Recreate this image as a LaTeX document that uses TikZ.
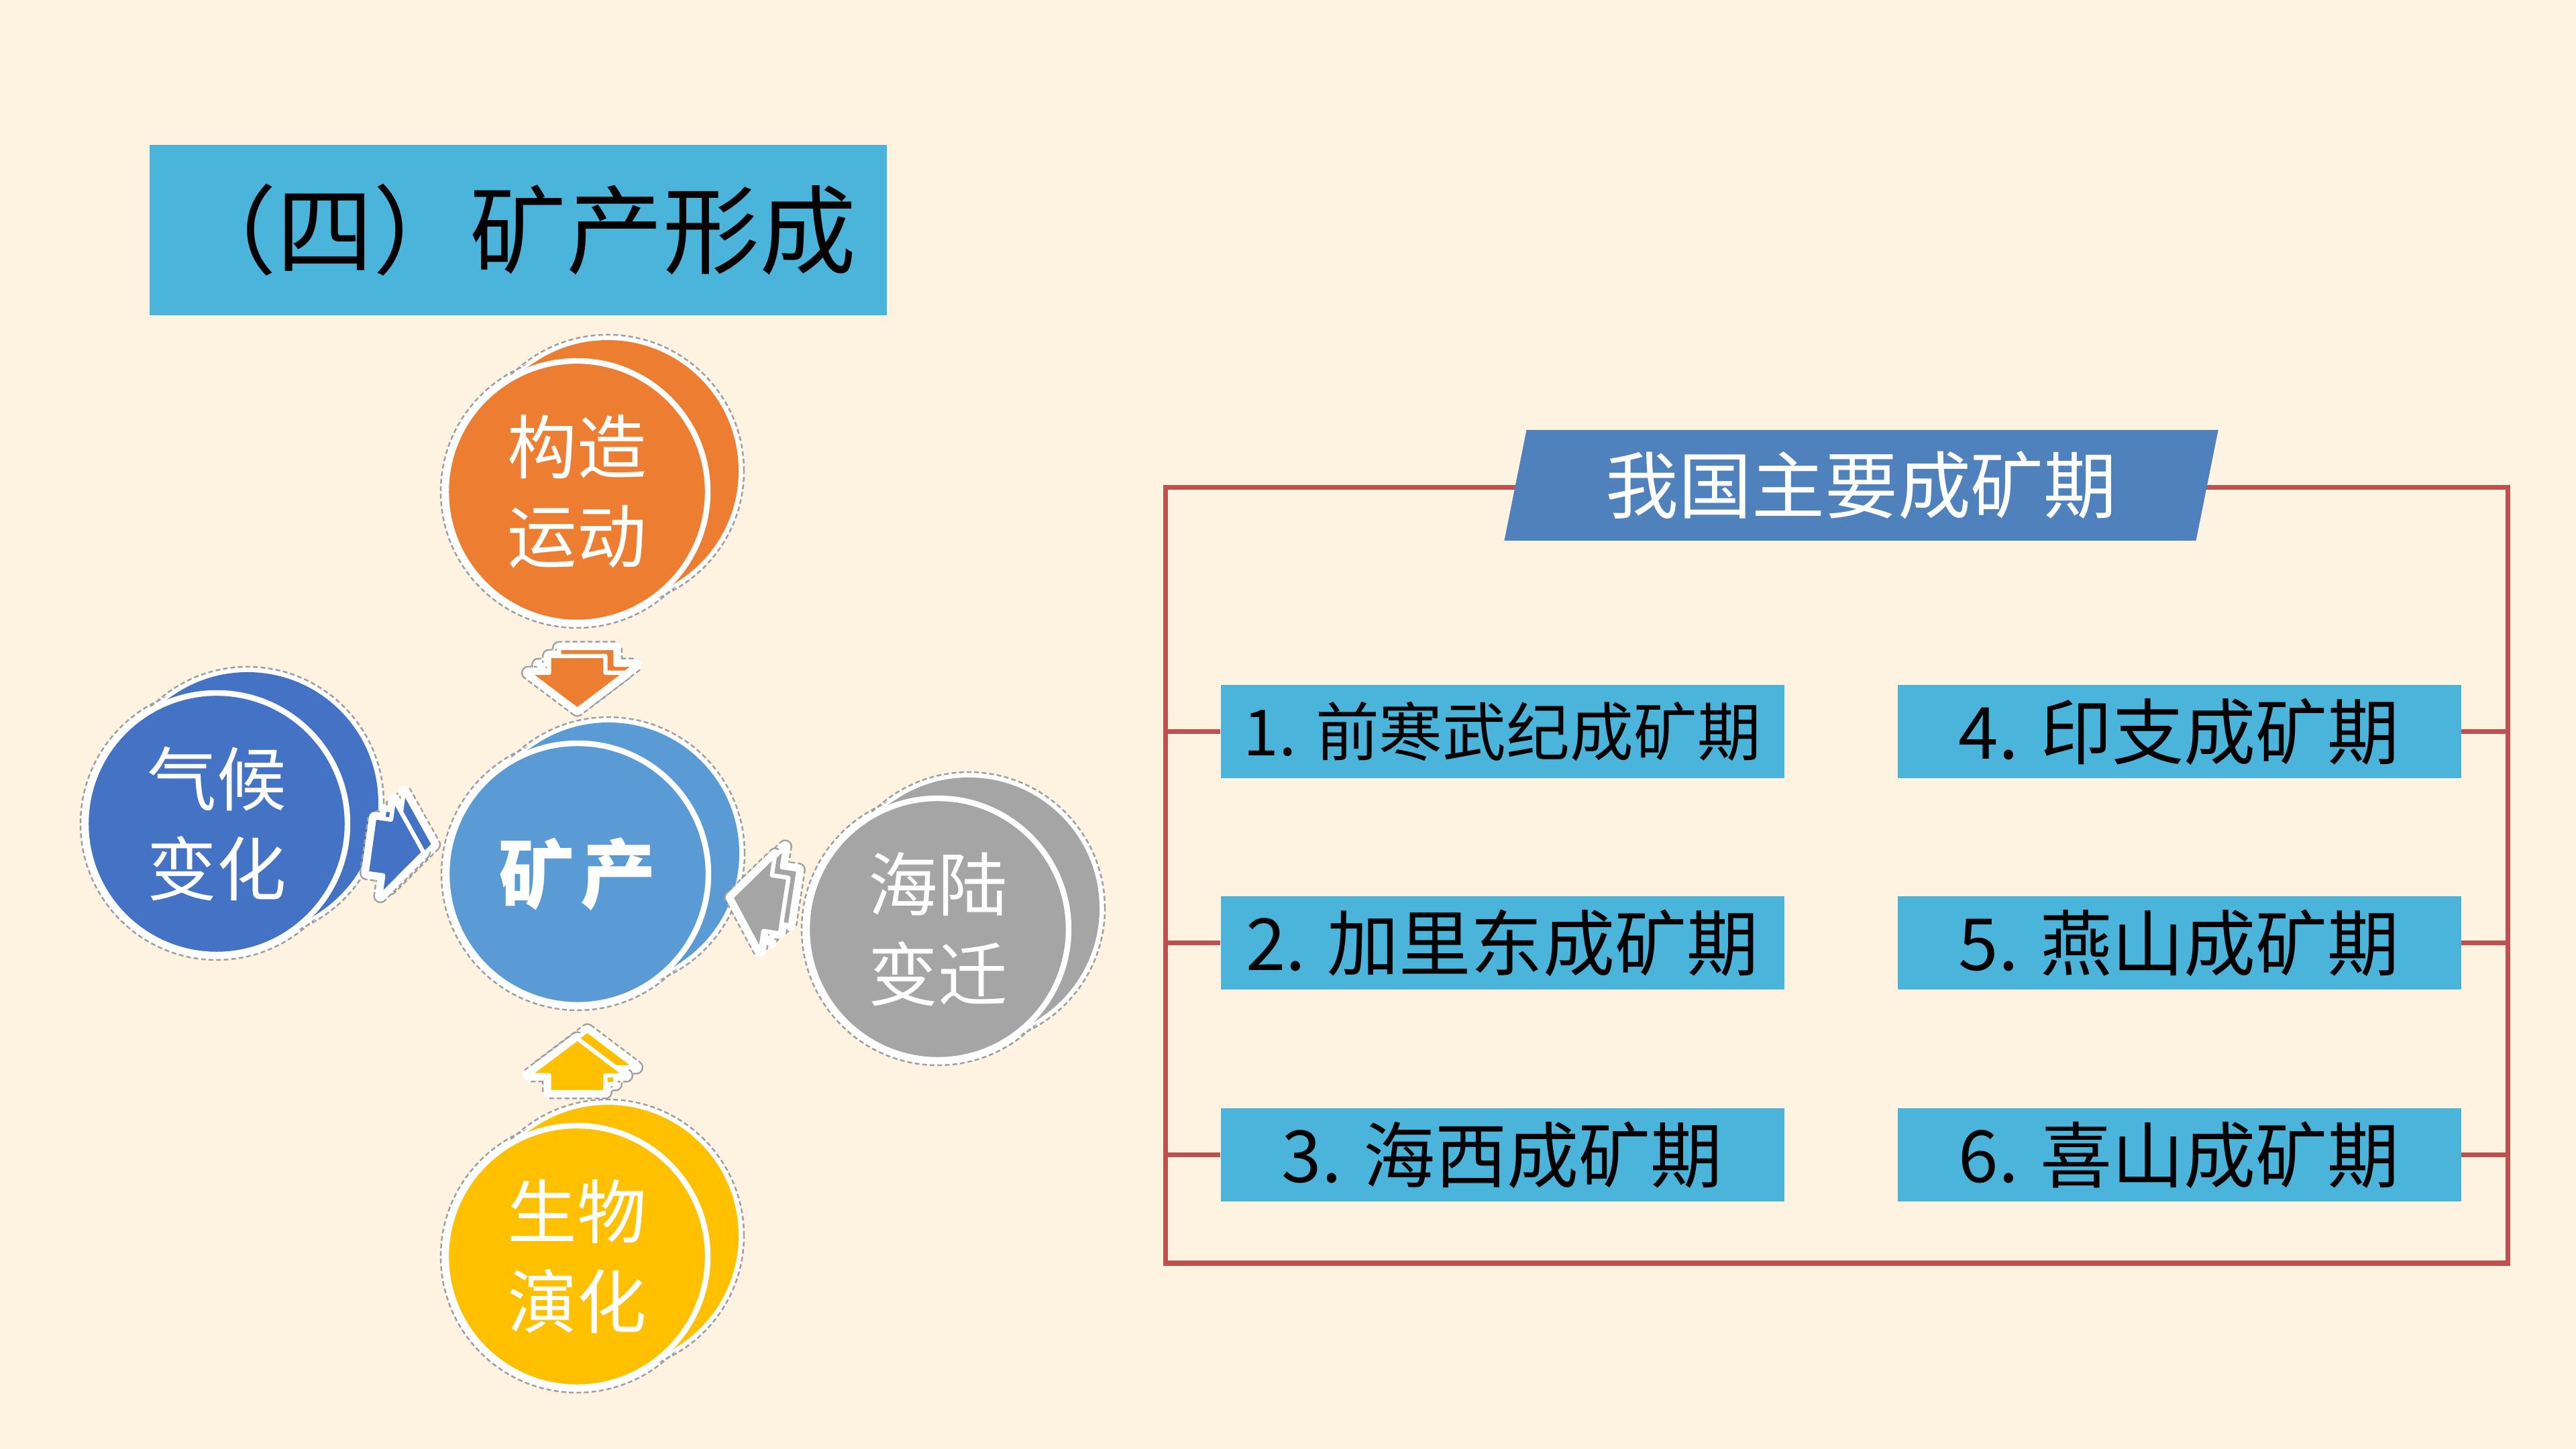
\documentclass[tikz,border=0pt]{standalone}
\usepackage{fontspec}
\setmainfont{Noto Sans CJK SC}
\usepackage{xcolor}
\usepackage{tikz}
\usetikzlibrary{calc, shapes.geometric, positioning}

\definecolor{bgcream}{HTML}{FEF2E0}
\definecolor{boxblue}{HTML}{4BB4DA}
\definecolor{headblue}{HTML}{4F81BD}
\definecolor{framered}{HTML}{C0504D}
\definecolor{orecenter}{HTML}{5B9BD5}
\definecolor{oreorange}{HTML}{ED7D31}
\definecolor{oreblue}{HTML}{4472C4}
\definecolor{oregray}{HTML}{A5A5A5}
\definecolor{oreyellow}{HTML}{FFC000}

\tikzset{
  halo/.style={draw=gray!75, line width=0.7pt, dash pattern=on 2pt off 1.2pt, fill=white},
  disk/.style={circle, minimum size=3.9cm, inner sep=0pt, draw=white, line width=2.4pt,
    text=white, align=center, font=\fontsize{29.5pt}{38pt}\selectfont},
  period/.style={fill=boxblue, minimum width=8.4cm, minimum height=1.39cm, inner sep=0pt,
    font=\fontsize{30.5pt}{34pt}\selectfont},
  stub/.style={framered, line width=2pt},
}

% khoi tru: #1 ten, #2 tam, #3 mau, #4 chu
\newcommand{\oredisk}[4]{
  \coordinate (#1c) at (#2);
  \coordinate (#1b) at ($(#1c)+(0.46,0.31)$);
  \path[halo] (#1b) circle (2.03) (#1c) circle (2.03);
  \fill[white] (#1b) circle (1.99) (#1c) circle (1.99);
  \fill[white] ($(#1c)+(124:1.99)$) -- ($(#1b)+(124:1.99)$) -- ($(#1b)+(-56:1.99)$) -- ($(#1c)+(-56:1.99)$) -- cycle;
  \fill[#3] (#1b) circle (1.95);
  \fill[#3] ($(#1c)+(124:1.95)$) -- ($(#1b)+(124:1.95)$) -- ($(#1b)+(-56:1.95)$) -- ($(#1c)+(-56:1.95)$) -- cycle;
  \node[disk, fill=#3] (#1) at (#1c) {#4};
}

% mui ten khoi: tu #1 den #2, mau #3
\newcommand{\arrowshape}{(-0.4,0.42) -- (-0.15,0.42) -- (-0.15,0.73) -- (0.4,0) -- (-0.15,-0.73) -- (-0.15,-0.42) -- (-0.4,-0.42) -- cycle}
\newcommand{\orearrow}[3]{
  \pgfmathanglebetweenpoints{\pgfpointanchor{#1}{center}}{\pgfpointanchor{#2}{center}}
  \let\arrowangle\pgfmathresult
  \foreach \dx/\dy in {0.15/0.12, 0/0} {
    \begin{scope}[shift={($(#1)!0.5!(#2)+(\dx,\dy)$)}, rotate=\arrowangle, line join=round]
      \draw[gray!75, line width=6pt, dash pattern=on 2pt off 1.2pt] \arrowshape;
      \draw[white, line width=4.6pt] \arrowshape;
    \end{scope}
  }
  \foreach \dx/\dy in {0.15/0.12, 0/0} {
    \begin{scope}[shift={($(#1)!0.5!(#2)+(\dx,\dy)$)}, rotate=\arrowangle, line join=round]
      \draw[white, line width=1.8pt, fill=#3] \arrowshape;
    \end{scope}
  }
}

\begin{document}
\begin{tikzpicture}
    % 1. Nen
    \useasboundingbox (0,0) rectangle (38.4,21.6);
    \fill[bgcream] (0,0) rectangle (38.4,21.6);

    % 2. Tieu de
    \node[fill=boxblue, minimum width=10.99cm, minimum height=2.54cm, inner sep=0pt,
      font=\fontsize{41pt}{46pt}\selectfont] (title) at (7.725,18.17) {（四）矿产形成};

    % 3. Cac khoi tru
    \oredisk{qihou}{3.23,9.32}{oreblue}{气候\\变化}
    \oredisk{hailu}{13.98,7.75}{oregray}{海陆\\变迁}
    \oredisk{gouzao}{8.60,14.27}{oreorange}{构造\\运动}
    \oredisk{kuang}{8.61,8.57}{orecenter}{\fontsize{32pt}{38pt}\selectfont\bfseries 矿\hspace{0.1cm}产}
    \oredisk{shengwu}{8.60,2.87}{oreyellow}{生物\\演化}

    % 4. Mui ten vao tam
    \orearrow{gouzao}{kuang}{oreorange}
    \orearrow{qihou}{kuang}{oreblue}
    \orearrow{hailu}{kuang}{oregray}
    \orearrow{shengwu}{kuang}{oreyellow}

    % 5. Khung do
    \node[draw=framered, line width=2pt, minimum width=20.01cm, minimum height=11.56cm,
      inner sep=0pt] (frame) at (27.375,8.55) {};
    \node[trapezium, trapezium left angle=76, trapezium right angle=104, trapezium stretches=true,
      minimum width=10.65cm, minimum height=1.65cm, inner sep=0pt, fill=headblue, text=white,
      font=\fontsize{31pt}{36pt}\selectfont] (head) at (27.745,14.365) {我国主要成矿期};

    % 6. Cac thoi ky
    \node[period, font=\fontsize{27pt}{30pt}\selectfont] (p1) at (22.395,10.695) {1. 前寒武纪成矿期};
    \node[period] (p2) at (22.395,7.545) {2. 加里东成矿期};
    \node[period] (p3) at (22.395,4.385) {3. 海西成矿期};
    \node[period] (p4) at (32.485,10.695) {4. 印支成矿期};
    \node[period] (p5) at (32.485,7.545) {5. 燕山成矿期};
    \node[period] (p6) at (32.485,4.385) {6. 喜山成矿期};

    % 7. Doan noi
    \foreach \n in {p1,p2,p3}
        \draw[stub] (\n.west) -- (\n.west -| frame.west);
    \foreach \n in {p4,p5,p6}
        \draw[stub] (\n.east) -- (\n.east -| frame.east);
\end{tikzpicture}
\end{document}
